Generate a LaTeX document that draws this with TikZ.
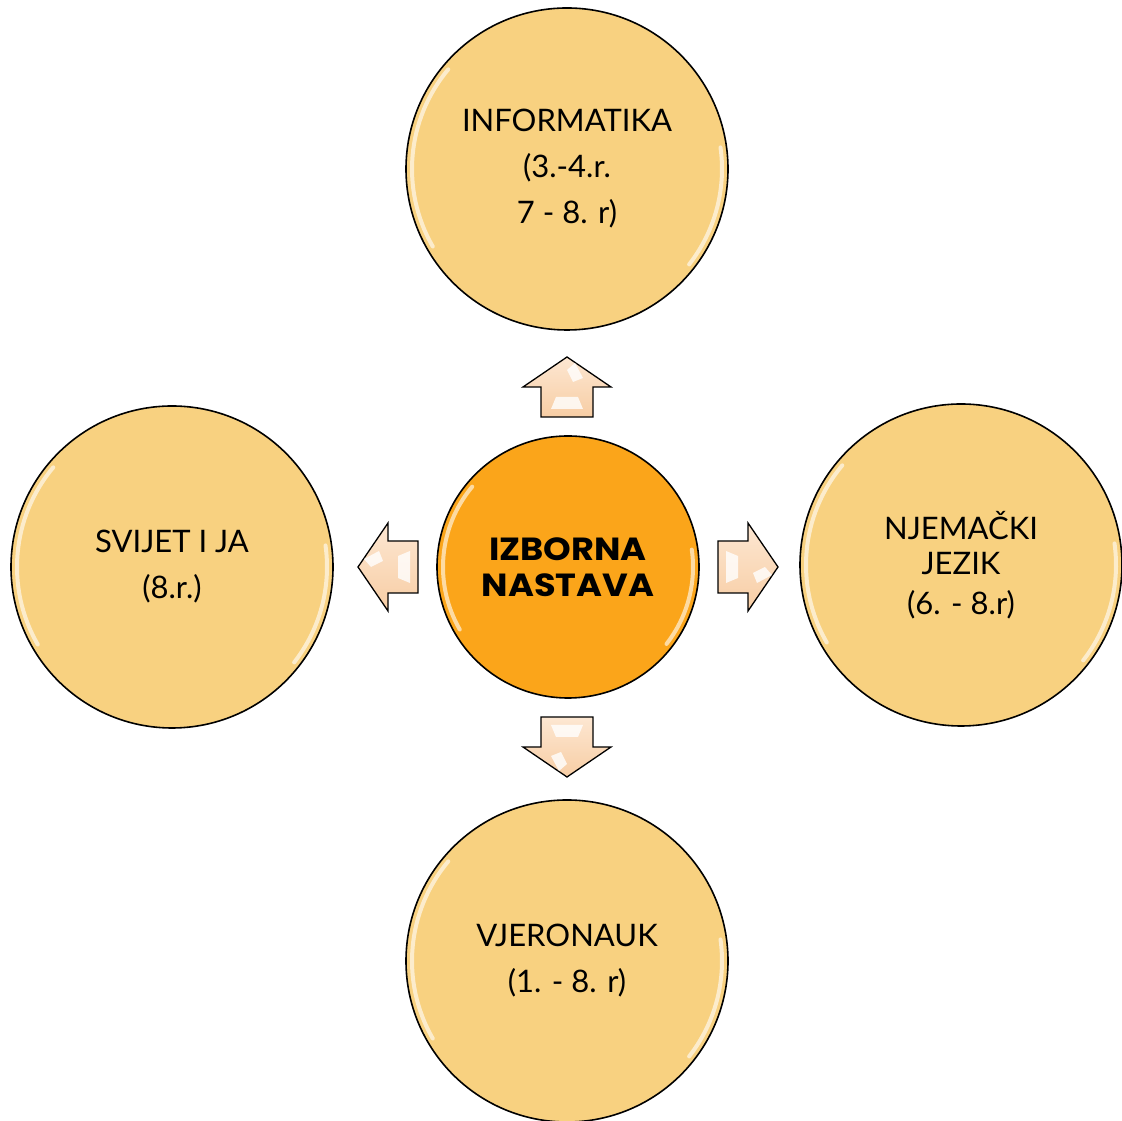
\documentclass[tikz,border=0pt]{standalone}
\usepackage{fontspec}
\setmainfont{Lato}
\newfontfamily\hubfont{Poppins}[FakeStretch=1.1]
\usetikzlibrary{calc}
\usetikzlibrary{positioning}

\definecolor{subjfill}{HTML}{F8D180}
\definecolor{hubfill}{HTML}{FBA51A}
\definecolor{arrowlight}{HTML}{FDE7D2}
\definecolor{arrowdark}{HTML}{F7CDA4}

\begin{document}
\begin{tikzpicture}[x=1pt,y=1pt]
\tikzstyle{subject}=[circle,align=center,draw,line width=1.6pt,fill=subjfill,minimum size=322pt,inner sep=0pt,font=\fontsize{31}{46}\selectfont]
\tikzstyle{hub}=[circle,align=center,draw,line width=1.6pt,fill=hubfill,minimum size=262pt,inner sep=0pt,font=\hubfont\bfseries\fontsize{32}{36}\selectfont]
\tikzstyle{gloss}=[white,line width=4pt,opacity=.6,line cap=round]
\tikzstyle{blockarrow}=[draw,line width=1.3pt,line join=miter,top color=arrowlight,bottom color=arrowdark]
\useasboundingbox (0,0) rectangle (1122,1121);

\node[subject] at(567, 952) (info) {INFORMATIKA\\(3.-4.r.\\7 - 8. r)};
\node[subject] at(172, 554) (svijet) {SVIJET I JA\\(8.r.)};
\node[subject] at(961, 556) (njem) {NJEMAČKI\\[-11pt]JEZIK\\[-6pt](6. - 8.r)};
\node[subject] at(567, 160) (vjero) {VJERONAUK\\(1. - 8. r)};
\node[hub] at(568, 554) (izborna) {IZBORNA\\NASTAVA};

% glossy rims
\foreach \n/\r in {info/155,svijet/155,njem/155,vjero/155,izborna/125}{
  \draw[gloss] ($(\n.center)+(140:\r)$) arc[start angle=140,end angle=210,radius=\r];
  \draw[gloss] ($(\n.center)+(-38:\r)$) arc[start angle=-38,end angle=8,radius=\r];
}

% block arrows
\foreach \tx/\ty/\ang in {567/704/90,567/404/-90,418/554/180,718/554/0}{
  \begin{scope}[shift={(\tx,\ty)},rotate=\ang]
    \draw[blockarrow] (0,-26) -- (30,-26) -- (30,-44) -- (60,0) -- (30,44) -- (30,26) -- (0,26) -- cycle;
    \fill[white,opacity=.8] (8,-16) -- (8,16) -- (20,11) -- (20,-11) -- cycle;
    \fill[white,opacity=.8] (47,0) -- (54,-8) -- (39,-16) -- (35,-6) -- cycle;
  \end{scope}
}
\end{tikzpicture}
\end{document}
